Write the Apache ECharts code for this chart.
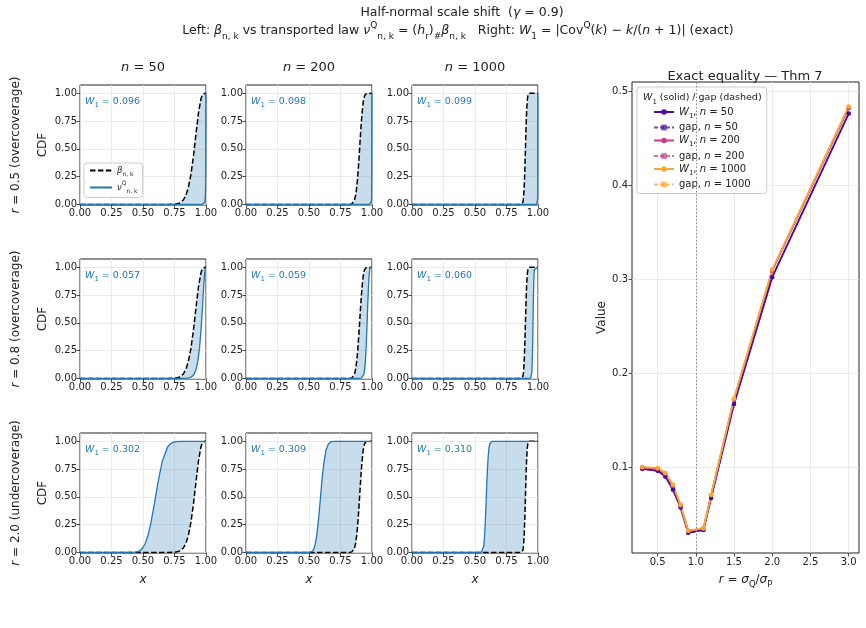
<!DOCTYPE html>
<html><head><meta charset="utf-8">
<script src="https://cdn.jsdelivr.net/npm/echarts@6/dist/echarts.min.js"></script>
<style>html,body{margin:0;padding:0;background:#fff}#c{width:866px;height:628px}</style>
</head><body><div id="c"></div>
<script>
// ---------------- data ----------------
const colN = ['50', '200', '1000'];
const rowLabels = ['0.5 (overcoverage)', '0.8 (overcoverage)', '2.0 (undercoverage)'];
const w1Text = [['0.096', '0.098', '0.099'], ['0.057', '0.059', '0.060'], ['0.302', '0.309', '0.310']];
const xTicks = [0, 0.25, 0.5, 0.75, 1];
const yTicks = [0, 0.25, 0.5, 0.75, 1];

// beta_{n,k} CDF (dashed)
const betaN50 = [[0,0],[0.70,0],[0.75,0.002],[0.78,0.008],[0.80,0.019],[0.82,0.040],[0.84,0.081],[0.86,0.153],[0.88,0.268],[0.90,0.431],[0.92,0.629],[0.94,0.821],[0.96,0.951],[0.97,0.982],[0.98,0.997],[0.99,1.0],[1,1]];
const betaN200 = [[0,0],[0.82,0],[0.83,0.002],[0.84,0.005],[0.85,0.013],[0.86,0.035],[0.87,0.082],[0.88,0.165],[0.89,0.300],[0.90,0.470],[0.91,0.655],[0.92,0.810],[0.93,0.920],[0.94,0.975],[0.95,0.995],[0.96,1.0],[1,1]];
const betaN1000 = [[0,0],[0.86,0],[0.87,0.002],[0.875,0.006],[0.88,0.018],[0.885,0.058],[0.89,0.145],[0.895,0.290],[0.90,0.485],[0.905,0.690],[0.91,0.845],[0.915,0.940],[0.92,0.980],[0.925,0.995],[0.93,1.0],[1,1]];

// transported law nu^Q_{n,k} CDF (solid)
const nuR05N50 = [[0,0],[0.97,0],[0.9786,0.002],[0.9858,0.008],[0.9896,0.019],[0.9927,0.040],[0.995,0.081],[0.9968,0.153],[0.9981,0.268],[0.999,0.431],[0.9995,0.629],[0.9998,0.821],[0.99995,0.951],[1,1]];
const nuR05N200 = [[0,0],[0.98,0],[0.995,0.005],[0.9968,0.035],[0.9981,0.165],[0.9986,0.30],[0.999,0.47],[0.9993,0.655],[0.9995,0.81],[0.9997,0.92],[0.9998,0.975],[1,1]];
const nuR05N1000 = [[0,0],[0.99,0],[0.9978,0.006],[0.9981,0.018],[0.9984,0.058],[0.9986,0.145],[0.9988,0.29],[0.999,0.485],[0.9992,0.69],[0.9993,0.845],[0.9994,0.94],[0.9995,0.98],[1,1]];
const nuR08N50 = [[0,0],[0.80,0],[0.8495,0.002],[0.8747,0.008],[0.8909,0.019],[0.9063,0.040],[0.921,0.081],[0.9349,0.153],[0.948,0.268],[0.9602,0.431],[0.9714,0.629],[0.9813,0.821],[0.9897,0.951],[0.9933,0.982],[0.9964,0.997],[0.9987,1.0],[1,1]];
const nuR08N200 = [[0,0],[0.88,0],[0.9137,0.002],[0.921,0.005],[0.928,0.013],[0.9349,0.035],[0.9416,0.082],[0.948,0.165],[0.9543,0.30],[0.9602,0.47],[0.9659,0.655],[0.9714,0.81],[0.9765,0.92],[0.9813,0.975],[0.9857,0.995],[0.9897,1.0],[1,1]];
const nuR08N1000 = [[0,0],[0.92,0],[0.9416,0.002],[0.9448,0.006],[0.948,0.018],[0.9512,0.058],[0.9543,0.145],[0.9573,0.29],[0.9602,0.485],[0.9631,0.69],[0.9659,0.845],[0.9687,0.94],[0.9714,0.98],[0.974,0.995],[0.9765,1.0],[1,1]];
const nuR20N50 = [[0,0],[0.3956,0],[0.4348,0.002],[0.4604,0.008],[0.4784,0.019],[0.4974,0.040],[0.5178,0.081],[0.5394,0.153],[0.563,0.268],[0.5892,0.431],[0.6186,0.629],[0.653,0.821],[0.6956,0.951],[0.7222,0.982],[0.7552,0.997],[0.8022,1.0],[1,1]];
const nuR20N200 = [[0,0],[0.48,0],[0.5074,0.002],[0.5178,0.005],[0.5284,0.013],[0.5394,0.035],[0.551,0.082],[0.563,0.165],[0.5758,0.30],[0.5892,0.47],[0.6034,0.655],[0.6186,0.81],[0.635,0.92],[0.653,0.975],[0.673,0.995],[0.6956,1.0],[1,1]];
const nuR20N1000 = [[0,0],[0.53,0],[0.551,0.002],[0.5569,0.006],[0.563,0.018],[0.5694,0.058],[0.5758,0.145],[0.5824,0.29],[0.5892,0.485],[0.5962,0.69],[0.6034,0.845],[0.6108,0.94],[0.6186,0.98],[0.6268,0.995],[0.635,1.0],[1,1]];

// right panel
const rValues = [0.3, 0.5, 0.6, 0.7, 0.8, 0.9, 1.1, 1.2, 1.5, 2.0, 3.0];
const w1N50 = [0.098, 0.096, 0.090, 0.076, 0.057, 0.030, 0.033, 0.067, 0.167, 0.302, 0.476];
const w1N200 = [0.0995, 0.098, 0.093, 0.080, 0.059, 0.032, 0.0345, 0.070, 0.172, 0.309, 0.482];
const w1N1000 = [0.0999, 0.099, 0.0938, 0.081, 0.060, 0.0323, 0.0349, 0.0705, 0.173, 0.310, 0.4836];
const gapN50 = [0.098, 0.096, 0.090, 0.076, 0.057, 0.030, 0.033, 0.067, 0.167, 0.302, 0.476];
const gapN200 = [0.0995, 0.098, 0.093, 0.080, 0.059, 0.032, 0.0345, 0.070, 0.172, 0.309, 0.482];
const gapN1000 = [0.0999, 0.099, 0.0938, 0.081, 0.060, 0.0323, 0.0349, 0.0705, 0.173, 0.310, 0.4836];
const rTicks = [0.5, 1.0, 1.5, 2.0, 2.5, 3.0];
const valueTicks = [0.1, 0.2, 0.3, 0.4, 0.5];

// ---------------- layout / style ----------------
const FONT = "'DejaVu Sans', sans-serif";
const betaByCol = [betaN50, betaN200, betaN1000];
const nuByCell = [[nuR05N50, nuR05N200, nuR05N1000], [nuR08N50, nuR08N200, nuR08N1000], [nuR20N50, nuR20N200, nuR20N1000]];
const colLeft = [80, 246, 412], rowTop = [85, 259, 433], PW = 126, PH = 120;
const BLUE = '#1f77b4';
const C50 = '#4c0aa0', C200 = '#c8407f', C1000 = '#fba832';
function rich(fs, color, lh) {
  lh = lh || Math.round(fs * 1.6);
  const sf = Math.round(fs * 0.72 * 2) / 2;
  return {
    i: { fontStyle: 'italic', fontFamily: FONT, fontSize: fs, color: color, fill: color, lineHeight: lh },
    t: { fontFamily: FONT, fontSize: fs, color: color, fill: color, lineHeight: lh },
    sub: { fontSize: sf, verticalAlign: 'bottom', fontFamily: FONT, color: color, fill: color, lineHeight: lh },
    sup: { fontSize: sf, verticalAlign: 'top', fontFamily: FONT, color: color, fill: color, lineHeight: lh }
  };
}

const grids = [], xAxes = [], yAxes = [], series = [], graphics = [];
for (let r = 0; r < 3; r++) {
  for (let c = 0; c < 3; c++) {
    const idx = r * 3 + c;
    grids.push({ left: colLeft[c], top: rowTop[r], width: PW, height: PH, show: true, borderColor: '#222', borderWidth: 1, backgroundColor: 'transparent', containLabel: false });
    xAxes.push({
      type: 'value', gridIndex: idx, min: 0, max: 1, interval: 0.25,
      axisLine: { show: false }, axisTick: { show: true, length: 3.5, lineStyle: { color: '#222', width: 0.8 } },
      axisLabel: { fontFamily: FONT, fontSize: 10, color: '#222', margin: 3, formatter: v => v.toFixed(2) },
      splitLine: { show: true, lineStyle: { color: '#e6e6e6', width: 0.8 } },
      name: r === 2 ? '{i|x}' : '', nameLocation: 'middle', nameGap: 17,
      nameTextStyle: { fontFamily: FONT, fontSize: 12, color: '#222', rich: rich(12, '#222') }
    });
    yAxes.push({
      type: 'value', gridIndex: idx, min: -0.005, max: 1.075,
      axisLine: { show: false },
      axisTick: { show: true, length: 3.5, lineStyle: { color: '#222', width: 0.8 }, customValues: yTicks },
      axisLabel: { fontFamily: FONT, fontSize: 10, color: '#222', margin: 3, formatter: v => v.toFixed(2), customValues: yTicks },
      splitLine: { show: true, lineStyle: { color: '#e6e6e6', width: 0.8 } },
      name: c === 0 ? 'CDF' : '', nameLocation: 'middle', nameGap: 31, nameRotate: 90,
      nameTextStyle: { fontFamily: FONT, fontSize: 12, color: '#222' }
    });
    const beta = betaByCol[c], nu = nuByCell[r][c];
    series.push({
      type: 'custom', xAxisIndex: idx, yAxisIndex: idx, silent: true, clip: true, z: 1,
      data: [[0.5, 0.5]],
      renderItem: (params, api) => {
        const pts = beta.map(p => api.coord(p)).concat(nu.slice().reverse().map(p => api.coord(p)));
        return { type: 'polygon', shape: { points: pts }, style: { fill: 'rgba(31,119,180,0.25)', stroke: null } };
      }
    });
    series.push({
      type: 'line', name: 'beta', xAxisIndex: idx, yAxisIndex: idx, data: beta, symbol: 'none', z: 3,
      lineStyle: { color: '#000', width: 1.5, type: [5.5, 2.4] }, itemStyle: { color: '#000' }
    });
    series.push({
      type: 'line', name: 'nu', xAxisIndex: idx, yAxisIndex: idx, data: nu, symbol: 'none', z: 4,
      lineStyle: { color: BLUE, width: 1.3 }, itemStyle: { color: BLUE }
    });
    graphics.push({
      type: 'text', x: colLeft[c] + 5, y: rowTop[r] + 17, z: 100,
      style: { text: '{i|W}{sub|1}{t| = ' + w1Text[r][c] + '}', fill: BLUE, fontFamily: FONT, fontSize: 9.5, verticalAlign: 'middle', align: 'left', rich: rich(9.5, BLUE, 14) }
    });
  }
}
// right panel
const RI = 9;
grids.push({ left: 632, top: 82, width: 227, height: 471, show: true, borderColor: '#222', borderWidth: 1, backgroundColor: 'transparent' });
xAxes.push({
  type: 'value', gridIndex: RI, min: 0.165, max: 3.135,
  axisLine: { show: false },
  axisTick: { show: true, length: 3.5, lineStyle: { color: '#222', width: 0.8 }, customValues: rTicks },
  axisLabel: { fontFamily: FONT, fontSize: 10, color: '#222', margin: 4, formatter: v => v.toFixed(1), customValues: rTicks },
  splitLine: { show: true, lineStyle: { color: '#e6e6e6', width: 0.8 } },
  name: '{i|r} = {i|σ}{sub|Q}/{i|σ}{sub|P}', nameLocation: 'middle', nameGap: 17,
  nameTextStyle: { fontFamily: FONT, fontSize: 12, color: '#222', rich: rich(12, '#222') }
});
yAxes.push({
  type: 'value', gridIndex: RI, min: 0.0085, max: 0.5096,
  axisLine: { show: false },
  axisTick: { show: true, length: 3.5, lineStyle: { color: '#222', width: 0.8 }, customValues: valueTicks },
  axisLabel: { fontFamily: FONT, fontSize: 10, color: '#222', margin: 4, formatter: v => v.toFixed(1), customValues: valueTicks },
  splitLine: { show: true, lineStyle: { color: '#e6e6e6', width: 0.8 } },
  name: 'Value', nameLocation: 'middle', nameGap: 24, nameRotate: 90,
  nameTextStyle: { fontFamily: FONT, fontSize: 12, color: '#222' }
});
function rSeries(name, vals, color, dashed) {
  return {
    type: 'line', name: name, xAxisIndex: RI, yAxisIndex: RI,
    data: rValues.map((r, i) => [r, vals[i]]),
    symbol: dashed ? 'rect' : 'circle', symbolSize: dashed ? 3.5 : 4.5, showSymbol: true,
    lineStyle: { color: color, width: dashed ? 1.4 : 1.8, type: dashed ? [4, 2] : 'solid', opacity: dashed ? 0.75 : 1 },
    itemStyle: { color: color, opacity: dashed ? 0.75 : 1 }
  };
}
const s50 = rSeries('W50', w1N50, C50, false);
s50.markLine = { silent: true, symbol: ['none', 'none'], label: { show: false }, lineStyle: { color: '#888', type: [1.5, 2], width: 1 }, data: [{ xAxis: 1.0 }] };
series.push(s50, rSeries('G50', gapN50, C50, true), rSeries('W200', w1N200, C200, false), rSeries('G200', gapN200, C200, true), rSeries('W1000', w1N1000, C1000, false), rSeries('G1000', gapN1000, C1000, true));

// texts
const T = (x, y, text, fs, opts) => Object.assign({ type: 'text', x: x, y: y, z: 100, style: Object.assign({ text: text, fontFamily: FONT, fontSize: fs, fill: '#222', align: 'center', verticalAlign: 'middle', rich: rich(fs, '#222') }, (opts && opts.style) || {}) }, (opts && opts.el) || {});
graphics.push(T(462, 13, '{t|Half-normal scale shift  (}{i|γ}{t| = 0.9)}', 12.5));
graphics.push(T(458, 31, '{t|Left: }{i|β}{sub|n, k}{t| vs transported law }{i|ν}{sup|Q}{sub|n, k}{t| = (}{i|h}{sub|r}{t|)}{sub|#}{i|β}{sub|n, k}{t|   Right: }{i|W}{sub|1}{t| = |Cov}{sup|Q}{t|(}{i|k}{t|) − }{i|k}{t|/(}{i|n}{t| + 1)| (exact)}', 12.5));
for (let c = 0; c < 3; c++) graphics.push(T(colLeft[c] + PW / 2, 68, '{i|n}{t| = ' + colN[c] + '}', 13));
graphics.push(T(745, 77, '{t|Exact equality — Thm 7}', 13));
for (let r = 0; r < 3; r++) graphics.push(T(16, rowTop[r] + PH / 2, '{i|r}{t| = ' + rowLabels[r] + '}', 12, { el: { rotation: Math.PI / 2 } }));
graphics.push(T(643, 98, '{i|W}{sub|1}{t| (solid) / gap (dashed)}', 9.5, { style: { align: 'left' } }));

const legendNames = { beta: '{i|β}{sub|n, k}', nu: '{i|ν}{sup|Q}{sub|n, k}', W50: '{i|W}{sub|1}{t|, }{i|n}{t| = 50}', G50: '{t|gap, }{i|n}{t| = 50}', W200: '{i|W}{sub|1}{t|, }{i|n}{t| = 200}', G200: '{t|gap, }{i|n}{t| = 200}', W1000: '{i|W}{sub|1}{t|, }{i|n}{t| = 1000}', G1000: '{t|gap, }{i|n}{t| = 1000}' };

const option = {
  animation: false,
  backgroundColor: '#fff',
  grid: grids, xAxis: xAxes, yAxis: yAxes, series: series,
  legend: [
    {
      data: ['beta', 'nu'], left: 84, top: 163, orient: 'vertical', itemWidth: 22, itemHeight: 8, itemGap: 3,
      padding: [3, 5, 3, 5], backgroundColor: 'rgba(255,255,255,0.8)', borderColor: '#ccc', borderWidth: 1, borderRadius: 3,
      itemStyle: { opacity: 0 },
      textStyle: { fontFamily: FONT, fontSize: 8.5, color: '#222', rich: rich(8.5, '#222', 14) },
      formatter: n => legendNames[n], selectedMode: false
    },
    {
      data: ['W50', 'G50', 'W200', 'G200', 'W1000', 'G1000'], left: 637, top: 87, orient: 'vertical', itemWidth: 20, itemHeight: 7, itemGap: 3,
      padding: [20, 16, 4, 16], backgroundColor: 'rgba(255,255,255,0.8)', borderColor: '#ccc', borderWidth: 1, borderRadius: 3,
      textStyle: { fontFamily: FONT, fontSize: 10, color: '#222', rich: rich(10, '#222', 15) },
      formatter: n => legendNames[n], selectedMode: false
    }
  ],
  graphic: graphics
};
const chart = echarts.init(document.getElementById('c'), null, { renderer: 'canvas' });
chart.setOption(option);
</script>
</body></html>
